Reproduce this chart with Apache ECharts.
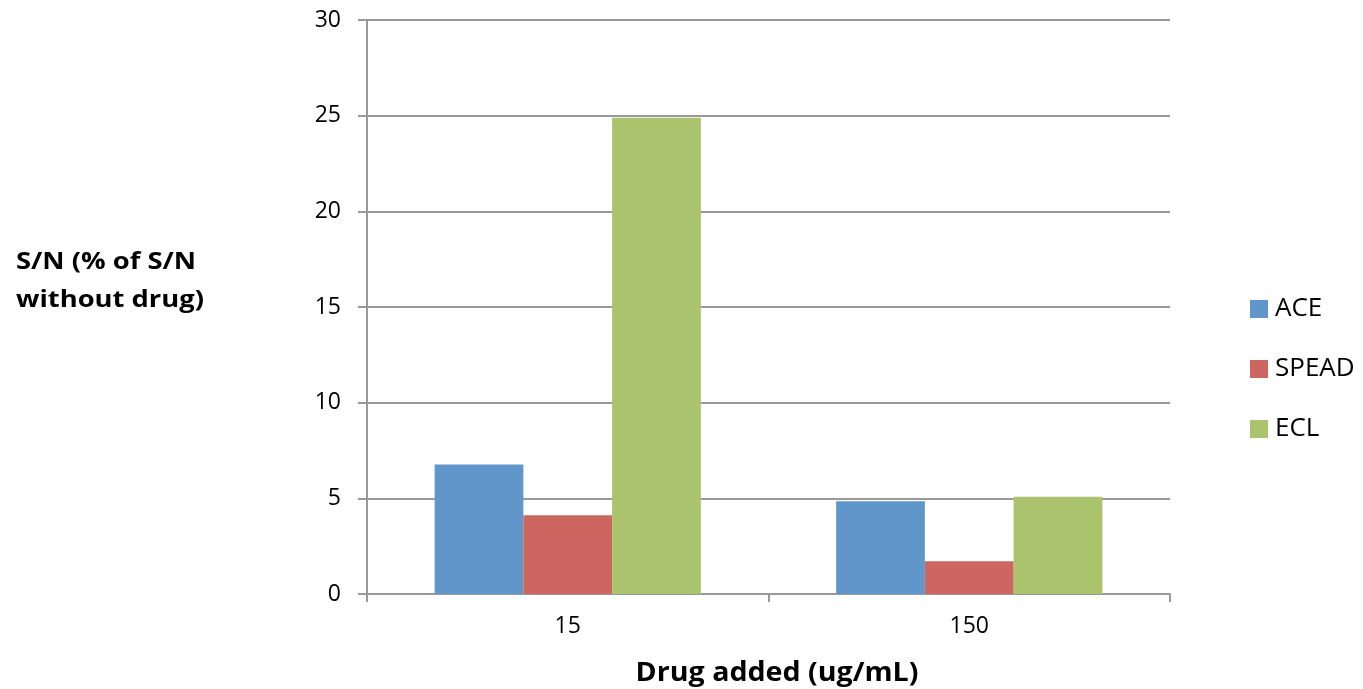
<!DOCTYPE html>
<html>
<head>
<meta charset="utf-8">
<script src="https://cdn.jsdelivr.net/npm/echarts@6/dist/echarts.min.js"></script>
<style>
  html, body { margin: 0; padding: 0; background: #fff; }
  #chart { width: 1363px; height: 689px; }
</style>
</head>
<body>
<div id="chart"></div>
<script>
// Drug concentrations on the category axis
const categories = ['15', '150'];
// S/N as % of S/N without drug, per method
const aceValues = [6.77, 4.85];
const speadValues = [4.12, 1.71];
const eclValues = [24.89, 5.08];
const seriesNames = ['ACE', 'SPEAD', 'ECL'];
const yTicks = { min: 0, max: 30, interval: 5 };
const yTitle = 'S/N (% of S/N\nwithout drug)';
const xTitle = 'Drug added (ug/mL)';

const FONT = '"Open Sans", Lato, sans-serif';
const colors = ['#6096C9', '#CD6660', '#AAC36C'];

const chart = echarts.init(document.getElementById('chart'));
chart.setOption({
  animation: false,
  color: colors,
  grid: { left: 367, right: 193, top: 20, bottom: 95, containLabel: false },
  legend: {
    orient: 'vertical',
    left: 1250,
    top: 296,
    padding: 0,
    itemWidth: 18,
    itemHeight: 18,
    itemGap: 34,
    icon: 'rect',
    textStyle: { fontFamily: FONT, fontSize: 26, color: '#000', lineHeight: 26, padding: [0, 0, 0, 2] },
    data: seriesNames
  },
  graphic: [
    {
      // axis titles, set slightly wide
      type: 'text',
      x: 16,
      y: 243,
      scaleX: 1.14,
      style: {
        text: yTitle,
        font: 'bold 24px ' + FONT,
        fill: '#000',
        lineHeight: 38
      }
    },
    {
      type: 'text',
      x: 777,
      y: 674,
      scaleX: 1.1,
      style: {
        text: xTitle,
        font: 'bold 26px ' + FONT,
        fill: '#000',
        align: 'center',
        verticalAlign: 'middle'
      }
    }
  ],
  xAxis: {
    type: 'category',
    data: categories,
    axisLine: { lineStyle: { color: '#999', width: 2 } },
    axisTick: { show: true, alignWithLabel: false, length: 8, lineStyle: { color: '#999', width: 2 } },
    axisLabel: { fontFamily: FONT, fontSize: 23, color: '#000', margin: 21 }
  },
  yAxis: {
    type: 'value',
    min: yTicks.min,
    max: yTicks.max,
    interval: yTicks.interval,
    axisLine: { show: true, lineStyle: { color: '#999', width: 2 } },
    axisTick: { show: true, length: 9, lineStyle: { color: '#999', width: 2 } },
    axisLabel: { fontFamily: FONT, fontSize: 23, color: '#000', margin: 26 },
    splitLine: { lineStyle: { color: '#999', width: 2 } }
  },
  series: [
    { name: seriesNames[0], type: 'bar', data: aceValues, barGap: '0%', barCategoryGap: '33.7%' },
    { name: seriesNames[1], type: 'bar', data: speadValues, barGap: '0%', barCategoryGap: '33.7%' },
    { name: seriesNames[2], type: 'bar', data: eclValues, barGap: '0%', barCategoryGap: '33.7%' }
  ]
});
</script>
</body>
</html>
